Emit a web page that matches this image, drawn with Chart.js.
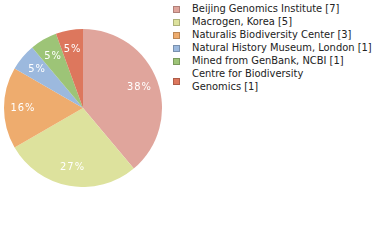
<!DOCTYPE html>
<html>
<head>
<meta charset="utf-8">
<script src="https://cdn.jsdelivr.net/npm/chart.js@4.4.0/dist/chart.umd.min.js"></script>
<style>
  body { margin: 0; background: #fff; }
  #wrap { position: relative; width: 380px; height: 240px; }
  #pie { position: absolute; left: 4px; top: 29px; width: 158px; height: 158px; }
  #legend { position: absolute; left: 173px; top: 2px; font-family: "DejaVu Sans Condensed", "DejaVu Sans", sans-serif; font-size: 11px; color: #222; }
  .item { position: relative; padding-left: 19px; line-height: 13px; width: 186px; white-space: pre-line; }
  .box { position: absolute; left: 0; top: calc(50% - 2.5px); width: 5px; height: 5px; border: 1px solid; }
</style>
</head>
<body>
<div id="wrap">
  <div id="pie"><canvas id="chart"></canvas></div>
  <div id="legend"></div>
</div>
<script>
const labels = ['Beijing Genomics Institute', 'Macrogen, Korea', 'Naturalis Biodiversity Center', 'Natural History Museum, London', 'Mined from GenBank, NCBI', 'Centre for Biodiversity\nGenomics'];
const counts = [7, 5, 3, 1, 1, 1];
const colors = ['#e0a59c', '#dde29d', '#eeac6e', '#9cb9de', '#9dc477', '#dd775d'];
const borders = ['#b08079', '#adb17a', '#bb8756', '#7a91ae', '#7b9a5d', '#ad5d49'];

const total = counts.reduce((a, b) => a + b, 0);

// percentage labels inside slices
const sliceLabels = {
    id: 'sliceLabels',
    afterDatasetsDraw(chart) {
        const ctx = chart.ctx;
        const meta = chart.getDatasetMeta(0);
        ctx.save();
        ctx.fillStyle = '#fff';
        ctx.font = '11px "DejaVu Sans Condensed", "DejaVu Sans", sans-serif';
        ctx.letterSpacing = '1px';
        ctx.textAlign = 'center';
        ctx.textBaseline = 'middle';
        meta.data.forEach((arc, i) => {
            const p = arc.getProps(['x', 'y', 'startAngle', 'endAngle', 'outerRadius']);
            const mid = (p.startAngle + p.endAngle) / 2;
            const r = p.outerRadius * 0.76;
            const pct = Math.floor(counts[i] / total * 100);
            ctx.fillText(pct + '%', p.x + Math.cos(mid) * r, p.y + Math.sin(mid) * r);
        });
        ctx.restore();
    }
};

new Chart(document.getElementById('chart'), {
    type: 'pie',
    data: {
        labels: labels,
        datasets: [{
            data: counts,
            backgroundColor: colors,
            borderWidth: 0
        }]
    },
    options: {
        responsive: true,
        maintainAspectRatio: false,
        animation: false,
        layout: { padding: 0 },
        plugins: {
            legend: { display: false },
            tooltip: { enabled: false }
        }
    },
    plugins: [sliceLabels]
});

// legend
const legend = document.getElementById('legend');
labels.forEach((name, i) => {
    const div = document.createElement('div');
    div.className = 'item';
    div.innerHTML = `<span class="box" style="background:${colors[i]};border-color:${borders[i]}"></span>${name} [${counts[i]}]`;
    legend.appendChild(div);
});
</script>
</body>
</html>
